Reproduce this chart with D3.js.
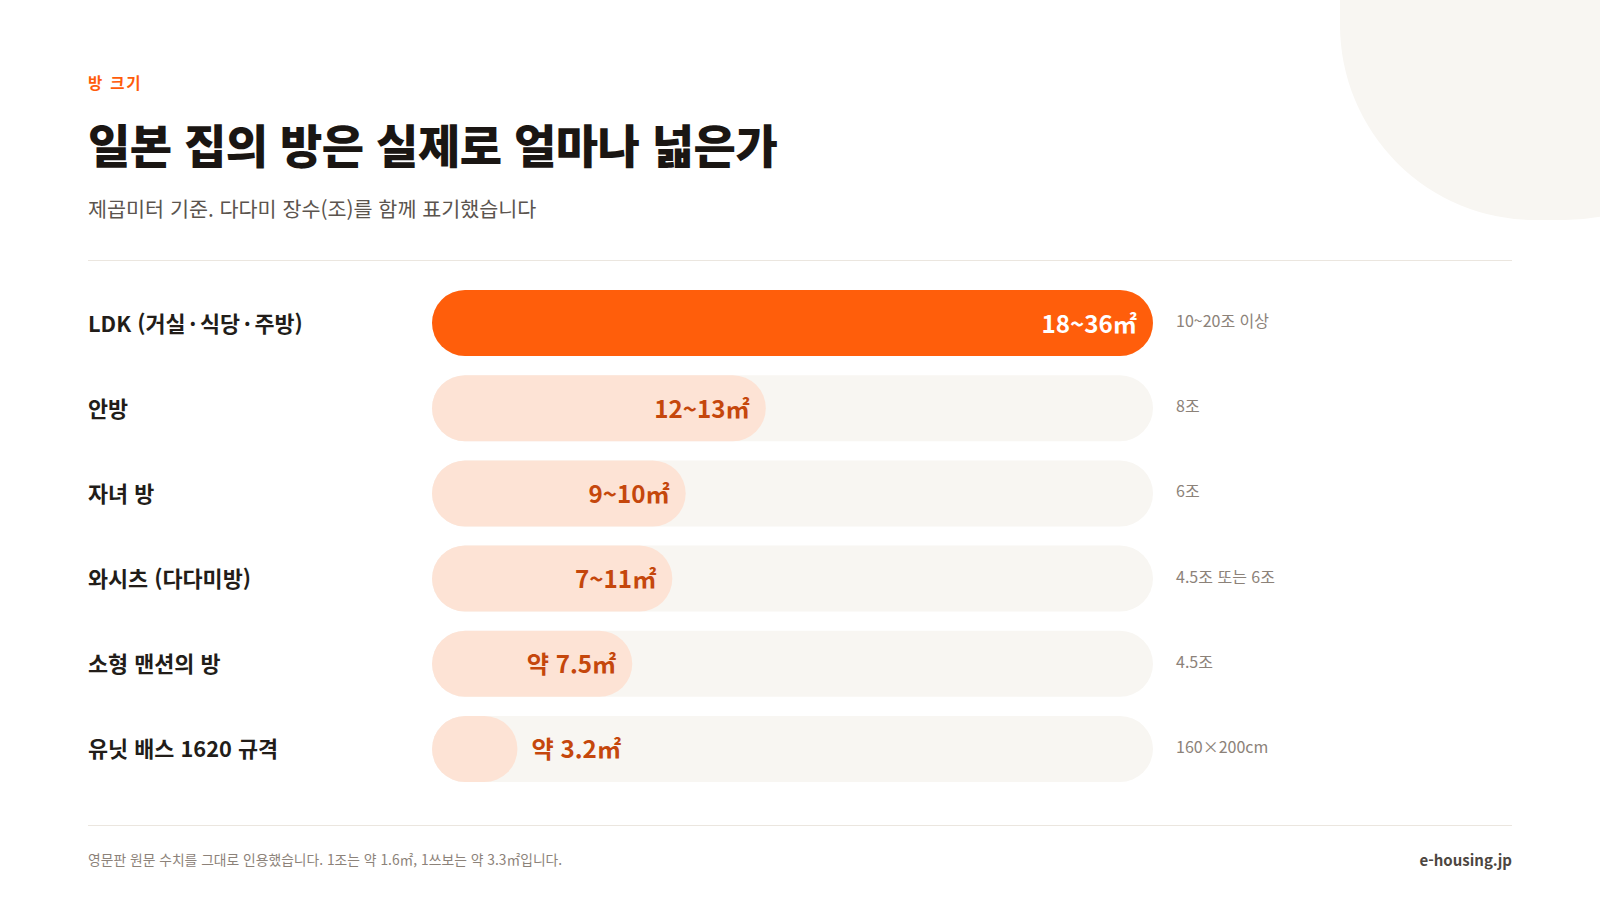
<!DOCTYPE html>
<html lang="ko">
<head>
<meta charset="utf-8">
<script src="https://cdn.jsdelivr.net/npm/d3@7"></script>
<style>
  html, body { margin: 0; padding: 0; background: #fff; }
  svg { display: block; font-family: "Noto Sans CJK KR", "Noto Sans", sans-serif; }
</style>
</head>
<body>
<svg id="chart"></svg>
<script>
// room names, displayed ranges, midpoint used for bar length, tatami notes
const rooms = ["LDK (거실\u2006·\u2006식당\u2006·\u2006주방)", "안방", "자녀 방", "와시츠 (다다미방)", "소형 맨션의 방", "유닛 배스 1620 규격"];
const rangeLabels = ["18~36㎡", "12~13㎡", "9~10㎡", "7~11㎡", "약 7.5㎡", "약 3.2㎡"];
const midValues = [27, 12.5, 9.5, 9, 7.5, 3.2];
const tatamiNotes = ["10~20조 이상", "8조", "6조", "4.5조 또는 6조", "4.5조", "160×200cm"];

const width = 1600;
const height = 900;
const left = 88;
const right = 1512;

const svg = d3.select("#chart")
    .attr("width", width)
    .attr("height", height);

// soft decorative blob, top right
svg.append("rect")
    .attr("x", 1340)
    .attr("y", -260)
    .attr("width", 420)
    .attr("height", 480)
    .attr("rx", 195)
    .attr("fill", "#f8f6f2");

// header
svg.append("text")
    .attr("x", left)
    .attr("y", 82)
    .attr("dominant-baseline", "central")
    .attr("fill", "#ff5c0a")
    .attr("font-size", 15.5)
    .attr("font-weight", 700)
    .attr("letter-spacing", 1.8)
    .text("방 크기");

svg.append("text")
    .attr("x", left)
    .attr("y", 143)
    .attr("dominant-baseline", "central")
    .attr("fill", "#1a1613")
    .attr("font-size", 46)
    .attr("font-weight", 900)
    .attr("letter-spacing", -0.5)
    .text("일본 집의 방은 실제로 얼마나 넓은가");

svg.append("text")
    .attr("x", left)
    .attr("y", 208)
    .attr("dominant-baseline", "central")
    .attr("fill", "#5b544e")
    .attr("font-size", 20.7)
    .text("제곱미터 기준. 다다미 장수(조)를 함께 표기했습니다");

svg.append("line")
    .attr("x1", left).attr("x2", right)
    .attr("y1", 260.5).attr("y2", 260.5)
    .attr("stroke", "#ebe6df")
    .attr("stroke-width", 1);

// scales
const y = d3.scaleBand()
    .domain(rooms)
    .range([290, 782])
    .paddingInner(0.225);

const x = d3.scaleLinear()
    .domain([0, d3.max(midValues)])
    .range([432, 1153]);

const r = y.bandwidth() / 2;

const rows = svg.selectAll(".row")
    .data(rooms)
    .enter()
    .append("g")
    .attr("class", "row")
    .attr("transform", (d) => `translate(0, ${y(d)})`);

// row labels
rows.append("text")
    .attr("x", left)
    .attr("y", r - 1)
    .attr("dominant-baseline", "central")
    .attr("fill", "#221d19")
    .attr("font-size", 21.8)
    .attr("font-weight", 700)
    .text((d) => d);

// background track
rows.append("rect")
    .attr("x", x(0))
    .attr("width", x.range()[1] - x(0))
    .attr("height", y.bandwidth())
    .attr("rx", r)
    .attr("fill", "#f8f6f2");

// value bar
rows.append("rect")
    .attr("x", x(0))
    .attr("width", (d, i) => x(midValues[i]) - x(0))
    .attr("height", y.bandwidth())
    .attr("rx", r)
    .attr("fill", (d, i) => (i === 0 ? "#ff5e0b" : "#fde3d5"));

// value labels, inside the bar unless the bar is too short
rows.append("text")
    .attr("y", r - 1)
    .attr("dominant-baseline", "central")
    .attr("font-size", 24.2)
    .attr("font-weight", 700)
    .attr("fill", (d, i) => (i === 0 ? "#ffffff" : "#c5470c"))
    .text((d, i) => rangeLabels[i])
    .each(function (d, i) {
        const t = d3.select(this);
        const w = this.getComputedTextLength();
        const end = x(midValues[i]);
        if (end - x(0) > w + 40) {
            t.attr("x", end - 16).attr("text-anchor", "end");
        } else {
            t.attr("x", end + 14).attr("text-anchor", "start");
        }
    });

// tatami notes
rows.append("text")
    .attr("x", 1176)
    .attr("y", r - 3)
    .attr("dominant-baseline", "central")
    .attr("fill", "#8c8279")
    .attr("font-size", 16)
    .text((d, i) => tatamiNotes[i]);

// footer
svg.append("line")
    .attr("x1", left).attr("x2", right)
    .attr("y1", 825.5).attr("y2", 825.5)
    .attr("stroke", "#ebe6df")
    .attr("stroke-width", 1);

svg.append("text")
    .attr("x", left)
    .attr("y", 859)
    .attr("dominant-baseline", "central")
    .attr("fill", "#8c8279")
    .attr("font-size", 13.8)
    .text("영문판 원문 수치를 그대로 인용했습니다. 1조는 약 1.6㎡, 1쓰보는 약 3.3㎡입니다.");

svg.append("text")
    .attr("x", right)
    .attr("y", 859)
    .attr("dominant-baseline", "central")
    .attr("text-anchor", "end")
    .attr("fill", "#4d4640")
    .attr("font-size", 15)
    .attr("font-weight", 700)
    .text("e-housing.jp");
</script>
</body>
</html>
